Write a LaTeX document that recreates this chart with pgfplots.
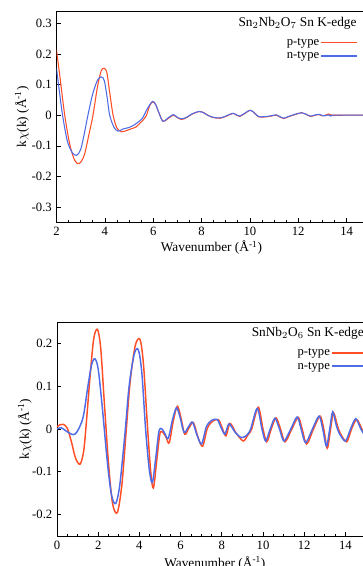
\documentclass[border=0pt]{standalone}
\usepackage{fontspec}
\setmainfont{Liberation Serif}
\usepackage{pgfplots}
\pgfplotsset{compat=1.18}
\definecolor{pred}{RGB}{255,78,38}
\definecolor{nblue}{RGB}{78,108,232}

\pgfplotstableread{
k chi
2.00 0.212
2.15 0.120
2.34 0.000
2.55 -0.095
2.75 -0.147
2.94 -0.158
3.15 -0.130
3.35 -0.060
3.51 0.000
3.70 0.095
3.85 0.145
3.96 0.153
4.08 0.140
4.20 0.075
4.34 0.000
4.50 -0.042
4.69 -0.054
4.90 -0.050
5.10 -0.044
5.30 -0.038
5.50 -0.022
5.70 -0.004
5.85 0.030
5.97 0.043
6.10 0.035
6.25 0.005
6.41 -0.020
6.60 -0.012
6.83 0.000
7.00 -0.008
7.18 -0.014
7.40 -0.007
7.60 0.003
7.90 0.012
8.10 0.008
8.30 -0.002
8.50 -0.008
8.76 -0.010
9.00 -0.004
9.17 0.002
9.31 0.006
9.45 0.000
9.58 -0.004
9.80 0.006
10.00 0.016
10.15 0.010
10.35 -0.005
10.56 -0.006
10.80 -0.004
11.10 0.000
11.25 -0.006
11.39 -0.011
11.60 -0.005
11.87 0.002
12.14 0.008
12.30 0.004
12.50 -0.004
12.70 0.000
12.84 0.002
13.00 -0.002
13.10 -0.001
13.25 0.004
13.40 0.000
14.00 0.000
15.00 0.000
}\topP

\pgfplotstableread{
k chi
2.00 0.153
2.10 0.090
2.25 0.000
2.45 -0.085
2.65 -0.122
2.83 -0.131
3.00 -0.112
3.15 -0.060
3.30 0.000
3.50 0.070
3.70 0.115
3.86 0.125
3.98 0.112
4.10 0.055
4.20 0.000
4.38 -0.040
4.55 -0.052
4.75 -0.045
5.00 -0.040
5.25 -0.030
5.55 -0.010
5.75 0.020
5.97 0.045
6.10 0.035
6.25 0.005
6.40 -0.020
6.60 -0.010
6.83 0.002
7.00 -0.007
7.18 -0.012
7.40 -0.006
7.60 0.004
7.90 0.012
8.10 0.007
8.30 -0.002
8.50 -0.007
8.76 -0.009
9.00 -0.003
9.17 0.003
9.31 0.006
9.45 0.001
9.58 -0.003
9.80 0.007
10.00 0.016
10.15 0.010
10.35 -0.004
10.56 -0.005
10.80 -0.003
11.10 0.001
11.25 -0.005
11.39 -0.010
11.60 -0.004
11.87 0.003
12.14 0.008
12.30 0.004
12.50 -0.003
12.70 0.001
12.84 0.003
13.00 -0.001
13.10 -0.002
13.25 0.001
13.35 -0.003
13.40 0.000
14.00 0.000
15.00 0.000
}\topN

\pgfplotstableread{
k chi
0.00 0.005
0.15 0.010
0.30 0.011
0.50 0.002
0.70 -0.030
0.90 -0.068
1.12 -0.082
1.30 -0.050
1.45 0.030
1.60 0.120
1.78 0.210
1.96 0.233
2.12 0.190
2.30 0.060
2.50 -0.080
2.70 -0.175
2.93 -0.195
3.15 -0.130
3.35 -0.010
3.55 0.110
3.80 0.195
4.03 0.209
4.20 0.150
4.40 0.000
4.55 -0.100
4.68 -0.138
4.85 -0.070
5.00 -0.010
5.16 -0.009
5.30 -0.020
5.45 -0.032
5.65 0.020
5.84 0.053
6.00 0.030
6.20 -0.012
6.40 0.002
6.62 0.015
6.85 -0.020
7.07 -0.040
7.30 0.002
7.55 0.018
7.83 0.022
8.00 0.005
8.20 -0.016
8.40 0.013
8.70 -0.010
9.04 -0.028
9.25 -0.015
9.45 0.000
9.77 0.051
10.00 0.000
10.18 -0.030
10.40 0.000
10.63 0.026
10.85 0.000
11.07 -0.030
11.40 0.000
11.71 0.027
11.90 0.000
12.12 -0.035
12.45 0.000
12.77 0.030
12.95 0.000
13.12 -0.045
13.28 0.000
13.42 0.038
13.60 0.010
13.75 -0.010
14.06 -0.030
14.30 0.000
14.55 0.022
14.80 0.000
15.00 -0.020
}\botP

\pgfplotstableread{
k chi
0.00 0.000
0.20 0.003
0.45 -0.005
0.70 -0.012
0.87 -0.012
1.05 0.000
1.28 0.030
1.50 0.100
1.68 0.150
1.84 0.164
2.00 0.140
2.20 0.050
2.45 -0.080
2.65 -0.155
2.85 -0.174
3.05 -0.130
3.30 -0.010
3.50 0.100
3.75 0.175
3.95 0.185
4.12 0.130
4.30 0.000
4.48 -0.095
4.63 -0.125
4.80 -0.065
4.95 -0.005
5.10 0.000
5.25 -0.012
5.40 -0.022
5.60 0.020
5.80 0.050
5.97 0.028
6.17 -0.008
6.38 0.005
6.58 0.016
6.80 -0.015
7.02 -0.035
7.25 0.005
7.50 0.020
7.78 0.022
7.95 0.005
8.15 -0.012
8.35 0.012
8.65 -0.008
8.95 -0.020
9.20 -0.015
9.40 0.000
9.72 0.048
9.95 0.000
10.13 -0.028
10.35 0.000
10.58 0.025
10.80 0.000
11.02 -0.028
11.35 0.000
11.66 0.028
11.85 0.000
12.07 -0.032
12.40 0.000
12.72 0.030
12.90 0.000
13.08 -0.040
13.24 0.000
13.38 0.040
13.55 0.010
13.70 -0.010
14.00 -0.028
14.25 0.000
14.50 0.024
14.75 0.000
15.00 -0.020
}\botN

\pgfplotsset{
  mystyle/.style={
    scale only axis,
    axis line style={black, line width=0.6pt},
    tick style={black, line width=0.5pt},
    tick align=inside,
    xtick pos=bottom, ytick pos=left,
    major tick length=3pt, minor tick length=1.8pt,
    minor x tick num=3,
    tick label style={font=\fontsize{9.5}{10}\selectfont},
    yticklabel style={/pgf/number format/.cd, fixed, precision=1},
    label style={font=\fontsize{10}{12}\selectfont},
    /pgf/number format/assume math mode=true,
    xlabel={Wavenumber (Å\textsuperscript{-1})},
    ylabel={k$\chi$(k) (Å\textsuperscript{-1})},
    legend plot pos=right,
    legend cell align=right,
    legend style={draw=none, fill=none, inner sep=0pt, row sep=0pt,
      anchor=north east, font=\fontsize{9.5}{10}\selectfont,
      nodes={inner sep=1pt, text height=6.2pt, text depth=1.8pt}},
  }
}

\begin{document}
\begin{tikzpicture}
\begin{axis}[mystyle,
  at={(42.375pt,-8.25pt)}, anchor=north west,
  width=235.7pt, height=158.6pt,
  xmin=2, xmax=15, ymin=-0.35, ymax=0.34,
  xtick={2,4,...,14},
  ytick={-0.3,-0.2,-0.1,0,0.1,0.2,0.3},
  xlabel style={at={(axis description cs:0.493,-0.12)}, anchor=center},
  ylabel style={at={(axis description cs:-0.11,0.5)}, anchor=center},
  legend style={at={(axis description cs:0.96,0.883)}},
  legend image code/.code={\draw[#1, line width=1pt] (0pt,0pt) -- (27pt,0pt);},
]
\addplot[pred, line width=0.8pt, smooth] table[x=k,y=chi] {\topP};
\addlegendentry{p-type}
\addplot[nblue, line width=0.8pt, smooth] table[x=k,y=chi] {\topN};
\addlegendentry{n-type}
\node[anchor=east, font=\fontsize{10}{12}\selectfont, inner sep=0pt] at (axis description cs:0.9555,0.943) {Sn$_2$Nb$_2$O$_7$ Sn K-edge};
\end{axis}

\begin{axis}[mystyle,
  at={(42.75pt,-241.5pt)}, anchor=north west,
  width=231.75pt, height=160.5pt,
  xmin=0, xmax=15, ymin=-0.25, ymax=0.25,
  xtick={0,2,...,14},
  ytick={-0.2,-0.1,0,0.1,0.2},
  xlabel style={at={(axis description cs:0.511,-0.126)}, anchor=center},
  ylabel style={at={(axis description cs:-0.104,0.5)}, anchor=center},
  legend style={at={(axis description cs:1.01,0.888)}},
  legend image code/.code={\draw[#1, line width=1.2pt] (0pt,0pt) -- (27pt,0pt);},
]
\addplot[pred, line width=1.1pt, smooth] table[x=k,y=chi] {\botP};
\addlegendentry{p-type}
\addplot[nblue, line width=1.1pt, smooth] table[x=k,y=chi] {\botN};
\addlegendentry{n-type}
\node[anchor=east, font=\fontsize{10}{12}\selectfont, inner sep=0pt] at (axis description cs:0.9935,0.949) {SnNb$_2$O$_6$ Sn K-edge};
\end{axis}
\pgfresetboundingbox
\useasboundingbox (0pt,0pt) rectangle (272.25pt,-424.5pt);
\end{tikzpicture}
\end{document}
